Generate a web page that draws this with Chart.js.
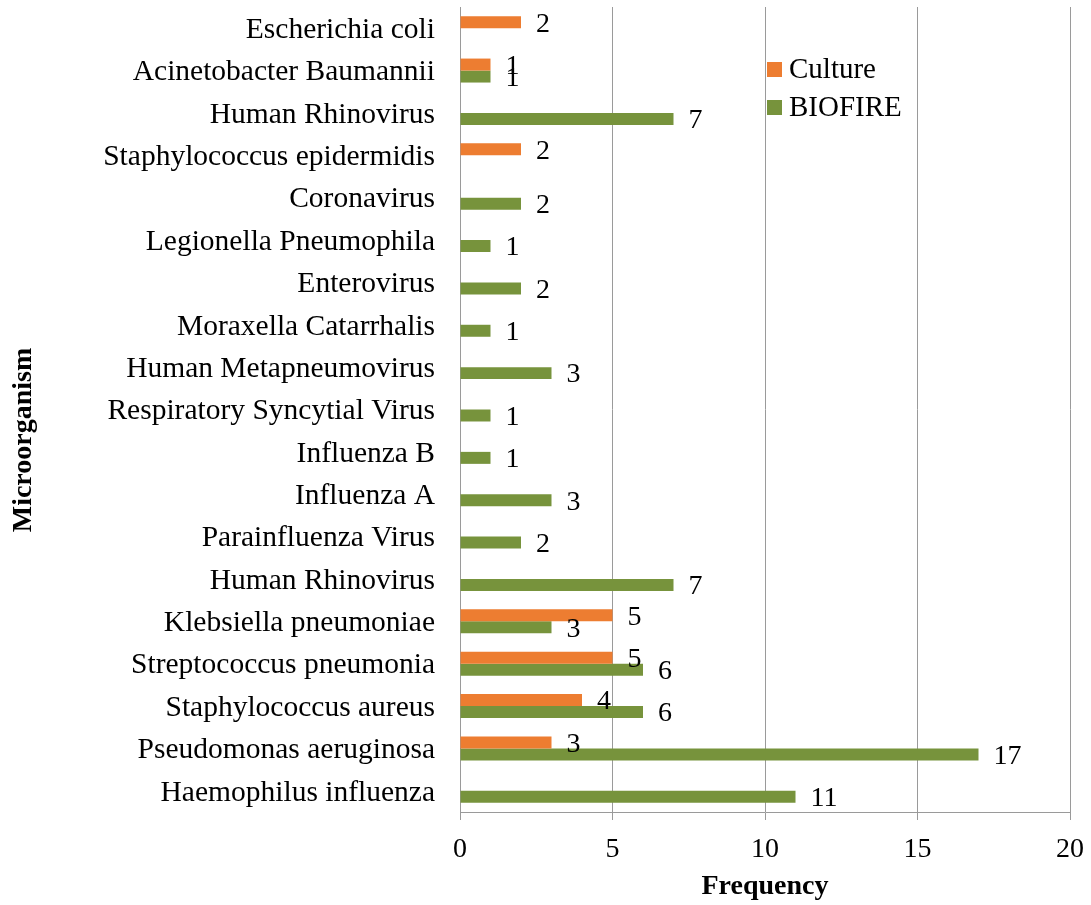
<!DOCTYPE html>
<html><head><meta charset="utf-8">
<style>html,body{margin:0;padding:0;background:#fff;}canvas{display:block;}</style>
<script src="https://cdn.jsdelivr.net/npm/chart.js@4.4.1/dist/chart.umd.min.js"></script>
</head><body>
<canvas id="c" width="1091" height="905"></canvas>
<script>
const categories = ['Escherichia coli','Acinetobacter Baumannii','Human Rhinovirus','Staphylococcus epidermidis','Coronavirus','Legionella Pneumophila','Enterovirus','Moraxella Catarrhalis','Human Metapneumovirus','Respiratory Syncytial Virus','Influenza B','Influenza A','Parainfluenza Virus','Human Rhinovirus','Klebsiella pneumoniae','Streptococcus pneumonia','Staphylococcus aureus','Pseudomonas aeruginosa','Haemophilus influenza'];
const cultureValues = [2,1,null,2,null,null,null,null,null,null,null,null,null,null,5,5,4,3,null];
const biofireValues = [null,1,7,null,2,1,2,1,3,1,1,3,2,7,3,6,6,17,11];
const seriesNames = ['Culture','BIOFIRE'];
const seriesColors = ['#ED7D31','#77933C'];
const xMin = 0, xMax = 20, xStep = 5;
const xTitle = 'Frequency';
const yTitle = 'Microorganism';

const FONT = '"Liberation Serif", "Times New Roman", serif';

const valueLabels = {
  id: 'valueLabels',
  afterDatasetsDraw(chart) {
    const ctx = chart.ctx;
    ctx.save();
    ctx.font = '28px ' + FONT;
    ctx.fillStyle = '#000';
    ctx.textAlign = 'left';
    ctx.textBaseline = 'middle';
    chart.data.datasets.forEach((ds, i) => {
      const meta = chart.getDatasetMeta(i);
      meta.data.forEach((bar, j) => {
        const v = ds.data[j];
        if (v == null) return;
        ctx.fillText(String(v), bar.x + 15, bar.y + 2);
      });
    });
    ctx.restore();
  }
};

const customLegend = {
  id: 'customLegend',
  afterDraw(chart) {
    const ctx = chart.ctx;
    ctx.save();
    ctx.font = '29px ' + FONT;
    ctx.textAlign = 'left';
    ctx.textBaseline = 'middle';
    chart.data.datasets.forEach((ds, i) => {
      const y = 62 + i * 38;
      ctx.fillStyle = ds.backgroundColor;
      ctx.fillRect(767, y, 15, 15);
      ctx.fillStyle = '#000';
      ctx.fillText(ds.label, 789, y + 8);
    });
    ctx.restore();
  }
};

const yAxisTitle = {
  id: 'yAxisTitle',
  afterDraw(chart) {
    const ctx = chart.ctx;
    ctx.save();
    ctx.font = 'bold 28px ' + FONT;
    ctx.fillStyle = '#000';
    ctx.textAlign = 'center';
    ctx.textBaseline = 'middle';
    ctx.translate(24, 440);
    ctx.rotate(-Math.PI / 2);
    ctx.fillText(yTitle, 0, 0);
    ctx.restore();
  }
};

new Chart(document.getElementById('c'), {
  type: 'bar',
  data: {
    labels: categories,
    datasets: [
      { label: seriesNames[0], data: cultureValues, backgroundColor: seriesColors[0], borderWidth: 0 },
      { label: seriesNames[1], data: biofireValues, backgroundColor: seriesColors[1], borderWidth: 0 }
    ]
  },
  options: {
    indexAxis: 'y',
    responsive: false,
    animation: false,
    devicePixelRatio: 1,
    layout: { padding: { top: 7, right: 21, bottom: 0, left: 0 } },
    plugins: { legend: { display: false }, tooltip: { enabled: false } },
    datasets: { bar: { categoryPercentage: 0.566, barPercentage: 1 } },
    scales: {
      x: {
        min: xMin, max: xMax,
        ticks: { stepSize: xStep, color: '#000', font: { family: FONT, size: 28 }, padding: 13 },
        grid: { color: '#9a9a9a', tickLength: 8, drawTicks: true },
        border: { color: '#9a9a9a' },
        title: { display: true, text: xTitle, color: '#000', font: { family: FONT, size: 28, weight: 'bold' }, padding: { top: 0, bottom: 1 } },
        afterFit(s) { s.height = 93; s.paddingLeft = 0; s.paddingRight = 0; }
      },
      y: {
        ticks: { color: '#000', font: { family: FONT, size: 29.5 }, padding: 3, autoSkip: false, labelOffset: 2 },
        grid: { display: false, drawTicks: true, tickLength: 22 },
        border: { display: true, color: '#9a9a9a' },
        afterFit(s) { s.width = 460; s.paddingTop = 0; s.paddingBottom = 0; }
      }
    }
  },
  plugins: [valueLabels, customLegend, yAxisTitle]
});
</script>
</body></html>
